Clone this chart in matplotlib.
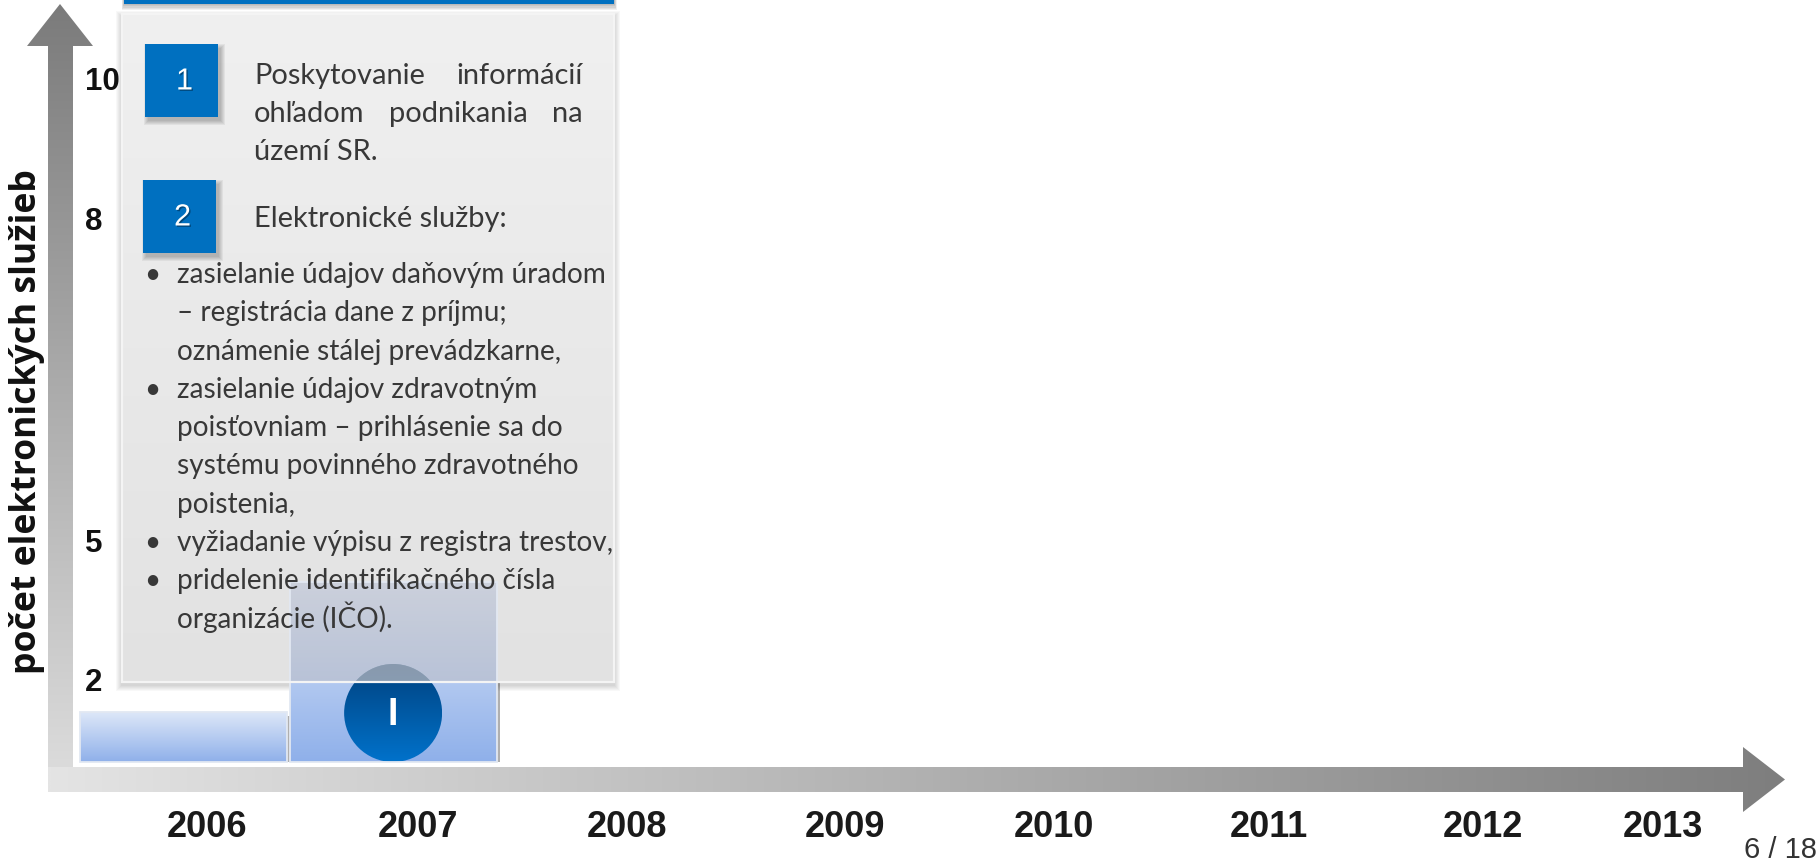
import numpy as np
import matplotlib
matplotlib.use("Agg")
import matplotlib.pyplot as plt
from matplotlib.patches import Rectangle, Polygon, Circle
from matplotlib.colors import to_rgb
import matplotlib.patheffects as pe

# ---------------- data ----------------
years = ["2006", "2007", "2008", "2009", "2010", "2011", "2012", "2013"]
service_years = ["2006", "2007"]
service_counts = [1.2, 4.1]
ytick_values = [2, 5, 8, 10]
ytick_labels = ["2", "5", "8", "10"]
y_title = "počet elektronických služieb"
phase_years = ["2007"]
phase_labels = ["I"]
item_numbers = ["1", "2"]
item1_lines = [["Poskytovanie", "informácií"],
               ["ohľadom", "podnikania", "na"],
               ["území", "SR."]]
item2_title = "Elektronické služby:"
item2_bullets = [
    ["zasielanie údajov daňovým úradom", "– registrácia dane z príjmu;",
     "oznámenie stálej prevádzkarne,"],
    ["zasielanie údajov zdravotným", "poisťovniam – prihlásenie sa do",
     "systému povinného zdravotného", "poistenia,"],
    ["vyžiadanie výpisu z registra trestov,"],
    ["pridelenie identifikačného čísla", "organizácie (IČO)."],
]
page_label = "6 / 18"

# layout: small horizontal nudges of the year labels (pixels), as on the slide
year_label_nudge_px = [-3, -2, -3, 5, 4, 9, 13, -17]

# ---------------- figure / axes ----------------
W, H = 1820, 862
plt.rcParams['font.family'] = ['Liberation Sans', 'DejaVu Sans']
fig = plt.figure(figsize=(W / 100, H / 100), dpi=100)
fig.patch.set_facecolor('white')


def overlay(z):
    a = fig.add_axes([0, 0, 1, 1], zorder=z)
    a.set_xlim(0, W)
    a.set_ylim(H, 0)
    a.axis('off')
    a.patch.set_visible(False)
    return a


bg = overlay(0)
BASE = 763
ax = fig.add_axes([0, (H - BASE) / H, 1, BASE / H], zorder=1)
ax.patch.set_visible(False)
for s in ax.spines.values():
    s.set_visible(False)
fg = overlay(2)


def grad(a, x0, x1, y0, y1, c0, c1, horizontal=False, clip=None, z=1, alpha=1.0, n=256):
    c0 = np.array(to_rgb(c0))
    c1 = np.array(to_rgb(c1))
    t = np.linspace(0, 1, n)[:, None]
    cols = c0 * (1 - t) + c1 * t
    img = cols[None, :, :] if horizontal else cols[:, None, :]
    im = a.imshow(img, extent=(x0, x1, y1, y0), origin='upper', aspect='auto',
                  interpolation='bilinear', zorder=z, alpha=alpha)
    if clip is not None:
        im.set_clip_path(clip)
    return im


def clip_patch(a, patch):
    patch.set_facecolor('none')
    patch.set_edgecolor('none')
    a.add_patch(patch)
    return patch


# ---------------- axis arrows ----------------
vpoly = clip_patch(bg, Polygon([(48, 793), (48, 47), (27, 47), (60, 5), (93, 47),
                                (73, 47), (73, 793)], closed=True))
grad(bg, 27, 93, 5, 793, '#7b7b7b', '#dedede', clip=vpoly)
hpoly = clip_patch(bg, Polygon([(48, 768), (1743, 768), (1743, 748), (1785, 780.5),
                                (1743, 813), (1743, 793), (48, 793)], closed=True))
grad(bg, 48, 1785, 748, 813, '#e4e4e4', '#7e7e7e', horizontal=True, clip=hpoly, z=2)

# ---------------- data axes ----------------
kv = [0, 2, 5, 8, 10, 11.5]
kp = [0, 83, 222, 545, 684, 763]
ax.set_yscale('function', functions=(lambda v: np.interp(v, kv, kp),
                                     lambda p: np.interp(p, kp, kv)))
ax.set_ylim(0, 11.5)
ax.set_xlim(-1, W / 210 - 1)

bx = np.array([years.index(y) for y in service_years]) - 0.128
bars = ax.bar(bx, service_counts, width=0.985, color='#b4c8ee', edgecolor='none',
              path_effects=[pe.SimplePatchShadow(offset=(2.5, -2.5), shadow_rgbFace='#606060',
                                                 alpha=0.5), pe.Normal()])

ax.set_xticks(np.arange(len(years)) + np.array(year_label_nudge_px) / 210, years)
ax.tick_params(axis='x', length=0, pad=34, labelsize=26, labelcolor='#1a1a1a')
for lab in ax.get_xticklabels():
    lab.set_fontweight('bold')
ax.set_yticks(ytick_values, ytick_labels)
ax.yaxis.set_minor_locator(matplotlib.ticker.NullLocator())
ax.tick_params(axis='y', length=0, pad=-85 * 0.72, labelsize=22.5, labelcolor='#111111')
for lab in ax.get_yticklabels():
    lab.set_fontweight('bold')
    lab.set_horizontalalignment('left')

renderer = fig.canvas.get_renderer()


def text_width(s, **kw):
    t = fg.text(0, 0, s, **kw)
    w = t.get_window_extent(renderer=renderer).width
    t.remove()
    return w


ylab_kw = dict(family=['Open Sans', 'DejaVu Sans'], weight='bold')
ylab_size = 20 * 504 / text_width(y_title, fontsize=20, **ylab_kw)
ax.set_ylabel(y_title, fontsize=ylab_size, color='#111111', **ylab_kw)
ax.yaxis.label.set_verticalalignment('center')
ax.yaxis.set_label_coords(27 / W, (BASE - 422) / BASE)


def to_fg(x, y):
    d = ax.transData.transform((x, y))
    return fg.transData.inverted().transform(d)


rects = []
for p in bars:
    xa, ya = to_fg(p.get_x(), 0)
    xb, yb = to_fg(p.get_x() + p.get_width(), p.get_height())
    rects.append((xa, xb, yb, ya))  # x0, x1, top, bottom

# ---------------- box ----------------
BX0, BX1, BY0, BY1 = 122, 614, 15, 683
for k in range(1, 7):
    fg.add_patch(Rectangle((BX0 - k, BY0 - k + 3), (BX1 - BX0) + 2 * k, (BY1 - BY0) + 2 * k,
                           facecolor='k', edgecolor='none', alpha=0.028, zorder=1))
# blue header strip (cut off at top)
for k in range(1, 6):
    fg.add_patch(Rectangle((124 - k * 0.5, -10), 490 + k, 15 + k * 1.2,
                           facecolor='k', edgecolor='none', alpha=0.06, zorder=1))
fg.add_patch(Rectangle((124, -10), 490, 15, facecolor='#0070c0', edgecolor='none', zorder=1.5))

box_clip = clip_patch(fg, Rectangle((BX0, BY0), BX1 - BX0, BY1 - BY0))
grad(fg, BX0, BX1, BY0, BY1, '#f0f0f0', '#e2e2e2', clip=box_clip, z=2)

# bar gradients
for (x0, x1, top, bot) in rects:
    rc = clip_patch(fg, Rectangle((x0, top), x1 - x0, bot - top))
    grad(fg, x0, x1, top, bot, '#dde7f8', '#8fb0ea', clip=rc, z=3)

# phase circle
for py, pl in zip(phase_years, phase_labels):
    x0, x1, top, bot = rects[service_years.index(py)]
    r = 49
    cx, cy = (x0 + x1) / 2, bot - r
    cc = clip_patch(fg, Circle((cx, cy), r))
    grad(fg, cx - r, cx + r, cy - r, cy + r, '#00427f', '#0072cb', clip=cc, z=4)
    veil = Circle((cx, cy), r, facecolor=(170 / 255, 170 / 255, 176 / 255), edgecolor='none',
                  alpha=0.42, zorder=5)
    fg.add_patch(veil)
    veil.set_clip_path(box_clip)
    fg.text(cx, cy + 1, pl, color='white', fontsize=27, fontweight='bold',
            ha='center', va='center', zorder=8)

# veils of box over bars + bar edges
for (x0, x1, top, bot) in rects:
    vt, vb = max(top, BY0), min(bot, BY1)
    if vb > vt:
        fg.add_patch(Rectangle((x0, vt), x1 - x0, vb - vt, facecolor=(190 / 255, 190 / 255, 196 / 255),
                               edgecolor='none', alpha=0.55, zorder=5))
    fg.add_patch(Rectangle((x0, top), x1 - x0, bot - top, facecolor='none',
                           edgecolor='#e2e8f2', lw=1.3, zorder=6))
fg.add_patch(Rectangle((BX0, BY0), BX1 - BX0, BY1 - BY0, facecolor='none',
                       edgecolor='#f4f4f4', lw=1.6, zorder=6))

# ---------------- numbered squares ----------------
square_pos = [(145, 45), (143, 181)]
SQ = 73
for (sx, sy), num in zip(square_pos, item_numbers):
    for k in range(5):
        fg.add_patch(Rectangle((sx + 3 - k, sy + 4 - k), SQ + 2 * k, SQ + 2 * k,
                               facecolor='k', edgecolor='none', alpha=0.05, zorder=6.5))
    fg.add_patch(Rectangle((sx, sy), SQ, SQ, facecolor='#0070c0', edgecolor='none', zorder=7))
    fg.text(sx + SQ / 2 + 3, sy + SQ / 2 + 1, num, color='white', fontsize=22,
            ha='center', va='center', zorder=8,
            path_effects=[pe.withSimplePatchShadow(offset=(1, -1), shadow_rgbFace='k', alpha=0.35)])

# ---------------- box text ----------------
body_kw = dict(family=['Lato', 'DejaVu Sans'], color='#383838')
head_size = 20 * 254 / text_width(item2_title, fontsize=20, **body_kw)
bullet_size = 20 * 430 / text_width(item2_bullets[0][0], fontsize=20, **body_kw)

TX0, TX1 = 254, 583
base1 = [84, 122, 160]
for li, (words, yb) in enumerate(zip(item1_lines, base1)):
    if li < len(item1_lines) - 1 and len(words) > 1:
        ws = [text_width(w, fontsize=head_size, **body_kw) for w in words]
        gap = (TX1 - TX0 - sum(ws)) / (len(words) - 1)
        x = TX0
        for w, wd in zip(words, ws):
            fg.text(x, yb, w, fontsize=head_size, ha='left', va='baseline', zorder=8, **body_kw)
            x += wd + gap
    else:
        fg.text(TX0, yb, " ".join(words), fontsize=head_size, ha='left', va='baseline',
                zorder=8, **body_kw)

fg.text(TX0, 227, item2_title, fontsize=head_size, ha='left', va='baseline', zorder=8, **body_kw)

yb = 283
for bullet in item2_bullets:
    fg.text(152, yb, "•", fontsize=bullet_size, ha='center', va='baseline', zorder=8, **body_kw)
    for line in bullet:
        fg.text(177, yb, line, fontsize=bullet_size, ha='left', va='baseline', zorder=8, **body_kw)
        yb += 38.3

# page number
fg.text(1817, 858, page_label, fontsize=21, color='#333333', ha='right', va='baseline')

for a in (bg, fg):
    a.set_xlim(0, W)
    a.set_ylim(H, 0)

fig.savefig("out.png", dpi=100, facecolor='white')
